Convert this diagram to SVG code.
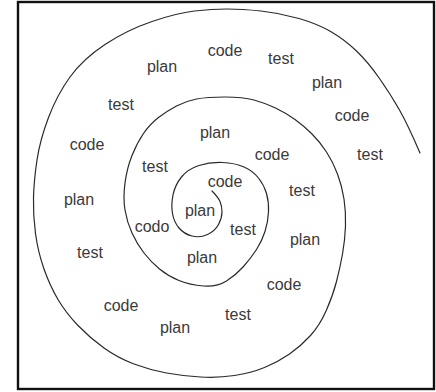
<svg xmlns="http://www.w3.org/2000/svg" width="436" height="392" viewBox="0 0 436 392">
  <style>
    .frame { fill: #ffffff; stroke: #111111; stroke-width: 2.4; }
    .spiral { fill: none; stroke: #2a2a2a; stroke-width: 1.2; stroke-linecap: round; stroke-linejoin: round; }
    .lbl { font-family: "Liberation Sans", Arial, sans-serif; font-size: 16px; fill: #3a3a3a; text-anchor: middle; }
  </style>
  <rect class="frame" x="18" y="2" width="416" height="387"/>
  <g id="spiral-connector">
    <path class="spiral" d="M212,191 Q218,197 220,201.5 T222,212 T218.5,224.5 T207.5,234.5 T192,236 T179,228 T172.5,213.5 T173,195 T181.5,177 T199,165.5 T222.5,162.5 T244,167 T258.5,178 T266.5,193.5 T268.5,212 T265,231.5 T256.5,249.5 T243.5,266.5 T226.5,281 T203.5,286 T179,280.5 T159.5,269 T144,253 T132,233 T125,210 T125,183 T132,155.5 T143.5,133.5 T158.5,117.5 T176.5,106 T196.5,99 T225,97 T254,100 T275.5,108 T295,119.5 T312,134 T326.5,152 T337.5,174 T344,199 T345.5,226 T342.5,254 T336.5,281.5 T326.5,310 T310.5,335.5 T289.5,354 T264.5,367.5 T234.5,375.5 T200.5,377 T166.5,373 T134,364 T104,348 T78,325.5 T58,299.5 T44,269 T35.5,233.5 T33.5,197.5 T37,160 T48.5,117.5 T70,77 T105,44.5 T152,21.5 T194.5,11 T227,9 T261,11 T299,18.5 T331.5,32 T356.5,51 T379.5,78.5 T399.5,110 T420,153"/>
  </g>
  <g id="labels">
    <g id="l01"><text class="lbl" x="225" y="56">code</text></g>
    <g id="l02"><text class="lbl" x="281" y="64">test</text></g>
    <g id="l03"><text class="lbl" x="162" y="72">plan</text></g>
    <g id="l04"><text class="lbl" x="327" y="88">plan</text></g>
    <g id="l05"><text class="lbl" x="121" y="110">test</text></g>
    <g id="l06"><text class="lbl" x="352" y="121">code</text></g>
    <g id="l07"><text class="lbl" x="87" y="150">code</text></g>
    <g id="l08"><text class="lbl" x="215" y="138">plan</text></g>
    <g id="l09"><text class="lbl" x="272" y="160">code</text></g>
    <g id="l10"><text class="lbl" x="370" y="160">test</text></g>
    <g id="l11"><text class="lbl" x="155" y="172">test</text></g>
    <g id="l12"><text class="lbl" x="225" y="187">code</text></g>
    <g id="l13"><text class="lbl" x="302" y="196">test</text></g>
    <g id="l14"><text class="lbl" x="79" y="205">plan</text></g>
    <g id="l15"><text class="lbl" x="200" y="216">plan</text></g>
    <g id="l16"><text class="lbl" x="152" y="232">codo</text></g>
    <g id="l17"><text class="lbl" x="243" y="235">test</text></g>
    <g id="l18"><text class="lbl" x="305" y="245">plan</text></g>
    <g id="l19"><text class="lbl" x="90" y="258">test</text></g>
    <g id="l20"><text class="lbl" x="202" y="263">plan</text></g>
    <g id="l21"><text class="lbl" x="284" y="290">code</text></g>
    <g id="l22"><text class="lbl" x="121" y="311">code</text></g>
    <g id="l23"><text class="lbl" x="238" y="320">test</text></g>
    <g id="l24"><text class="lbl" x="175" y="333">plan</text></g>
  </g>
</svg>
